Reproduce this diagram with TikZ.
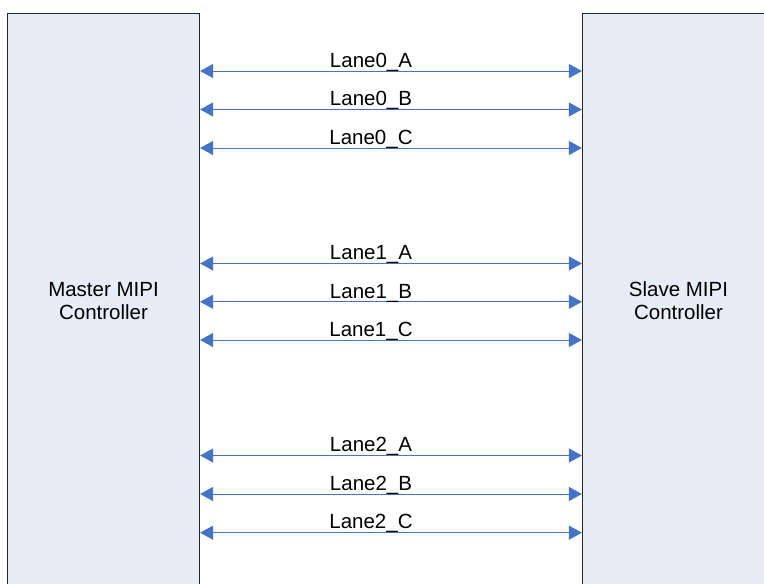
\documentclass[tikz,border=0pt]{standalone}
\usepackage{fontspec}
\setmainfont{Liberation Sans}
\usetikzlibrary{arrows.meta}
\definecolor{ctrlfill}{RGB}{230,237,247}
\definecolor{laneblue}{RGB}{70,116,196}
\begin{document}
\begin{tikzpicture}[x=1pt,y=-1pt,
  ctrl/.style={draw=black!85, line width=1.2pt, fill=ctrlfill, rectangle,
    minimum width=192pt, minimum height=575pt, inner sep=0pt, align=center,
    font=\fontsize{20.5}{22.7}\selectfont},
  lane/.style={draw=laneblue, line width=1pt,
    {Triangle[length=13pt,width=14pt]}-{Triangle[length=13pt,width=14pt]}},
  lanelabel/.style={anchor=base, inner sep=0pt, font=\fontsize{20.5}{22.7}\selectfont}]
  \useasboundingbox (0,0) rectangle (764,584);
  \clip (0,0) rectangle (764,584);
  % controllers
  \node[ctrl] (master) at (103.5,301) {Master MIPI\\Controller};
  \node[ctrl] (slave) at (678.5,301) {Slave MIPI\\Controller};
  % lanes
  \foreach \y/\name in {71/Lane0_A,109.5/Lane0_B,148/Lane0_C,
                        263.5/Lane1_A,301.8/Lane1_B,340/Lane1_C,
                        455.5/Lane2_A,494/Lane2_B,532.7/Lane2_C}{
    \draw[lane] (master.east |- 0,\y) -- (slave.west |- 0,\y);
    \node[lanelabel] (lbl-\name) at (371,\y-3.8) {\detokenize\expandafter{\name}};
  }
\end{tikzpicture}
\end{document}
